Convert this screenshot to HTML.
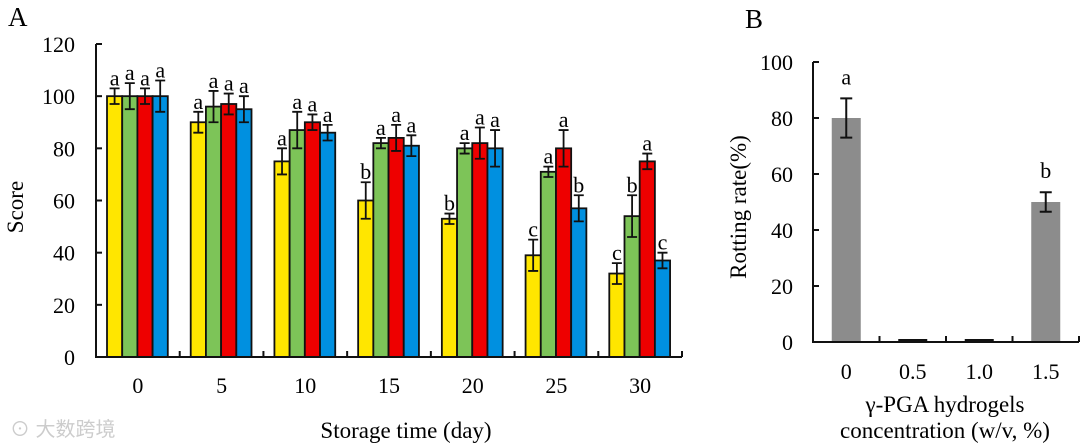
<!DOCTYPE html>
<html><head><meta charset="utf-8"><style>
html,body{margin:0;padding:0;background:#fff;}
svg{display:block;font-family:"Liberation Serif",serif;}
</style></head><body>
<svg id="fig" width="1080" height="445" viewBox="0 0 1080 445" xmlns="http://www.w3.org/2000/svg">
<text x="8" y="26" font-size="27">A</text>
<text x="745" y="28" font-size="27">B</text>
<g id="ga"></g>
<g id="gb"></g>
<text x="10" y="436" font-size="20" fill="#ccc" font-family="'Liberation Sans','Noto Sans CJK SC',sans-serif">⊙ 大数跨境</text>
</svg>
<script>
const catsA = ["0","5","10","15","20","25","30"];
const yellowVals = [100,90,75,60,53,39,32];
const greenVals  = [100,96,87,82,80,71,54];
const redVals    = [100,97,90,84,82,80,75];
const blueVals   = [100,95,86,81,80,57,37];
const yellowErr = [3,4,5,7,2,6,4];
const greenErr  = [5,6,7,2,2,2,8];
const redErr    = [3,4,3,5,6,7,3];
const blueErr   = [6,5,3,4,7,5,3];
const yellowLet = ["a","a","a","b","b","c","c"];
const greenLet  = ["a","a","a","a","a","a","b"];
const redLet    = ["a","a","a","a","a","a","a"];
const blueLet   = ["a","a","a","a","a","b","c"];
const ticksA = [0,20,40,60,80,100,120];

const catsB = ["0","0.5","1.0","1.5"];
const valsB = [80,0,0,50];
const errB  = [7,0,0,3.5];
const letB  = ["a","","","b"];
const ticksB = [0,20,40,60,80,100];

const NS="http://www.w3.org/2000/svg";
function mk(p,tag,at){const e=document.createElementNS(NS,tag);for(const k in at)e.setAttribute(k,at[k]);p.appendChild(e);return e;}

// Chart A
const ga=document.getElementById('ga');
const ax0=96, ax1=682, ay0=357, ay1=44;
const yA=v=>ay0-(v/120)*(ay0-ay1);
const gw=(ax1-ax0)/catsA.length;
const xA=i=>ax0+i*gw;
const series=[[yellowVals,yellowErr,yellowLet,"#ffe600"],[greenVals,greenErr,greenLet,"#7dc458"],[redVals,redErr,redLet,"#ee0000"],[blueVals,blueErr,blueLet,"#0090e0"]];
const bw=15.2;
catsA.forEach((c,i)=>{
  series.forEach((s,j)=>{
    const x=xA(i)+11+j*bw, v=s[0][i], e=s[1][i];
    const r=mk(ga,'rect',{x:x,y:yA(v),width:bw,height:yA(0)-yA(v),fill:s[3],stroke:"#111","stroke-width":1.8});
    
    
    const cx=x+bw/2;
    const eg=mk(ga,'path',{d:`M${cx},${yA(v+e)}V${yA(v-e)}M${cx-5},${yA(v+e)}H${cx+5}M${cx-5},${yA(v-e)}H${cx+5}`,stroke:"#111","stroke-width":1.8,fill:"none"});
    
    
    const t=mk(ga,'text',{x:cx,y:yA(v+e)-3,"font-size":22,"text-anchor":"middle"});
    t.textContent=s[2][i];
    
    
  });
  const lt=mk(ga,'text',{x:xA(i)+gw/2,y:393,"font-size":22,"text-anchor":"middle"});
  lt.textContent=c;
  
  
  const tk=mk(ga,'line',{x1:xA(i+1),x2:xA(i+1),y1:ay0,y2:ay0-6,stroke:"#111","stroke-width":2});
  
  
});
ticksA.forEach(v=>{
  const l=mk(ga,'line',{x1:ax0,x2:ax0+6,y1:yA(v),y2:yA(v),stroke:"#111","stroke-width":2});
  
  
  const t=mk(ga,'text',{x:ax0-21,y:yA(v)+8,"font-size":22,"text-anchor":"end"});
  t.textContent=v;
  
  
});
const axA=mk(ga,'path',{d:`M${ax0},${ay1}V${ay0}H${ax1}`,stroke:"#111","stroke-width":2,fill:"none"});


const xtA=mk(ga,'text',{x:406,y:438,"font-size":23,"text-anchor":"middle"});
xtA.textContent="Storage time (day)";


const ytA=mk(ga,'text',{x:0,y:0,"font-size":23,"text-anchor":"middle",transform:"translate(23,207) rotate(-90)"});
ytA.textContent="Score";



// Chart B
const gb=document.getElementById('gb');
const bx0=813, bx1=1079, by0=342, by1=62;
const yB=v=>by0-(v/100)*(by0-by1);
const gwB=(bx1-bx0)/catsB.length;
catsB.forEach((c,i)=>{
  const cx=bx0+gwB*(i+0.5), v=valsB[i], e=errB[i];
  const h=Math.max(yB(0)-yB(v),3);
  const r=mk(gb,'rect',{x:cx-14.5,y:yB(0)-h,width:29,height:h,fill:v>0?"#8c8c8c":"#111"});
  
  
  if(e>0){
    const eg=mk(gb,'path',{d:`M${cx},${yB(v+e)}V${yB(v-e)}M${cx-6},${yB(v+e)}H${cx+6}M${cx-6},${yB(v-e)}H${cx+6}`,stroke:"#111","stroke-width":2,fill:"none"});
    
    
  }
  if(letB[i]){
    const t=mk(gb,'text',{x:cx,y:yB(v+e)-14,"font-size":22,"text-anchor":"middle"});
    t.textContent=letB[i];
    
    
  }
  const lt=mk(gb,'text',{x:cx,y:379,"font-size":22,"text-anchor":"middle"});
  lt.textContent=c;
  
  
  const tk=mk(gb,'line',{x1:bx0+gwB*(i+1),x2:bx0+gwB*(i+1),y1:by0,y2:by0-6,stroke:"#111","stroke-width":2});
  
  
});
ticksB.forEach(v=>{
  const l=mk(gb,'line',{x1:bx0,x2:bx0+6,y1:yB(v),y2:yB(v),stroke:"#111","stroke-width":2});
  
  
  const t=mk(gb,'text',{x:bx0-20,y:yB(v)+8,"font-size":22,"text-anchor":"end"});
  t.textContent=v;
  
  
});
const axB=mk(gb,'path',{d:`M${bx0},${by1}V${by0}H${bx1}`,stroke:"#111","stroke-width":2,fill:"none"});


const xb1=mk(gb,'text',{x:945,y:412,"font-size":23,"text-anchor":"middle"});
xb1.textContent="γ-PGA hydrogels";


const xb2=mk(gb,'text',{x:945,y:438,"font-size":23,"text-anchor":"middle"});
xb2.textContent="concentration  (w/v, %)";


const ytB=mk(gb,'text',{x:0,y:0,"font-size":23,"text-anchor":"middle",transform:"translate(746,207) rotate(-90)"});
ytB.textContent="Rotting rate(%)";


</script>
</body></html>
